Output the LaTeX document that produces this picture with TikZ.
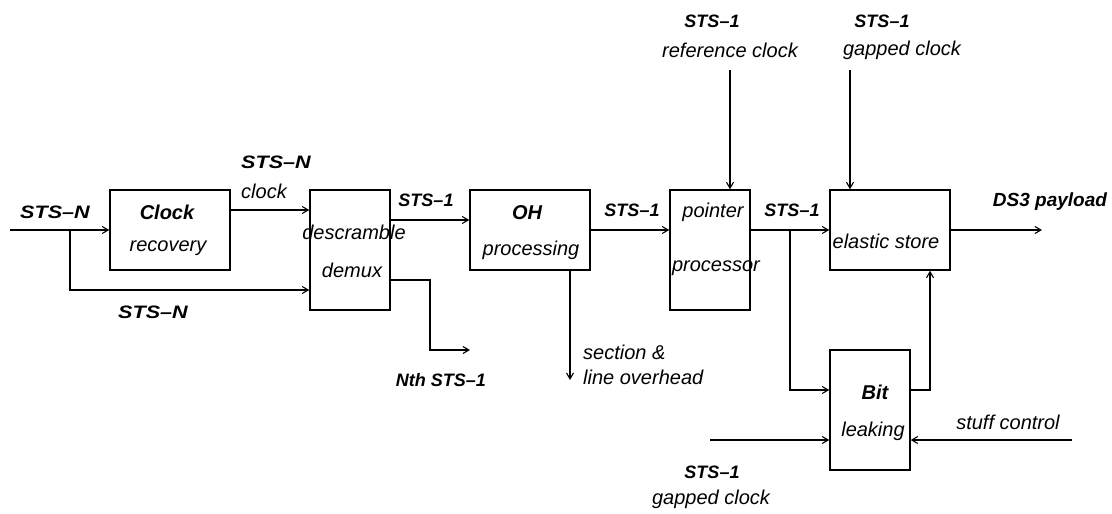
\documentclass[tikz,border=0pt]{standalone}
\usepackage{fontspec}
\setmainfont{Liberation Sans}
\usepackage{graphicx}
\usetikzlibrary{arrows.meta}
\begin{document}
\begin{tikzpicture}[x=1pt,y=-1pt,
  box/.style={draw,line width=1.4pt,inner sep=0pt},
  lbl/.style={inner sep=0pt,font=\fontsize{20}{22}\selectfont\itshape},
  blbl/.style={inner sep=0pt,font=\fontsize{18}{20}\selectfont\bfseries\itshape},
  bbox/.style={inner sep=0pt,font=\fontsize{20}{22}\selectfont\bfseries\itshape},
  wire/.style={line width=1.1pt},
  arr/.style={wire,-{Straight Barb[length=6pt,width=7pt,line width=1.1pt]}}]
\useasboundingbox (0,0) rectangle (1112,514);
% boxes
\node[box,minimum width=120pt,minimum height=80pt] (cr) at (170,230) {};
\node[box,minimum width=80pt,minimum height=120pt] (ds) at (350,250) {};
\node[box,minimum width=120pt,minimum height=80pt] (oh) at (530,230) {};
\node[box,minimum width=80pt,minimum height=120pt] (pp) at (710,250) {};
\node[box,minimum width=120pt,minimum height=80pt] (es) at (890,230) {};
\node[box,minimum width=80pt,minimum height=120pt] (bl) at (870,410) {};
% box texts
\node[bbox] (t1) at (167,212) {Clock};
\node[lbl] (t2) at (168,248) {recovery};
\node[lbl] (t3) at (354,232) {descramble};
\node[lbl] (t4) at (352,270) {demux};
\node[bbox] (t5) at (527,213) {OH};
\node[lbl] (t6) at (531,250) {processing};
\node[lbl] (t7) at (713,212) {pointer};
\node[lbl] (t8) at (716,268) {processor};
\node[lbl] (t9) at (886,241) {elastic store};
\node[bbox] (t10) at (875,392) {Bit};
\node[lbl] (t11) at (873,431) {leaking};
% signal labels
\node[blbl] (l1) at (55,212) {\scalebox{1.2}[1]{STS–N}};
\node[blbl,anchor=west] (l2) at (241,162) {\scalebox{1.2}[1]{STS–N}};
\node[lbl,anchor=west] (l3) at (241,191) {clock};
\node[blbl] (l4) at (153,312) {\scalebox{1.2}[1]{STS–N}};
\node[blbl] (l5) at (426,200) {STS–1};
\node[blbl] (l6) at (441,380) {Nth STS–1};
\node[blbl] (l7) at (632,210) {STS–1};
\node[lbl,anchor=west] (l8) at (583,352) {section \&};
\node[lbl,anchor=west] (l9) at (583,377) {line overhead};
\node[blbl] (l10) at (712,21) {STS–1};
\node[lbl] (l11) at (730,50) {reference clock};
\node[blbl] (l12) at (882,21) {STS–1};
\node[lbl] (l13) at (902,50) {gapped clock};
\node[blbl] (l14) at (792,210) {STS–1};
\node[blbl,font=\fontsize{19}{21}\selectfont\bfseries\itshape] (l15) at (1050,202) {DS3 payload};
\node[lbl] (l16) at (1008,422) {stuff control};
\node[blbl] (l17) at (712,472) {STS–1};
\node[lbl] (l18) at (711,499) {gapped clock};
% free ends
\coordinate (in) at (10,230);
\coordinate (br1) at (70,230);
\coordinate (nth) at (470,350);
\coordinate (ovh) at (570,380);
\coordinate (refc) at (730,70);
\coordinate (gapc) at (850,70);
\coordinate (br2) at (790,230);
\coordinate (ds3) at (1042,230);
\coordinate (stuff) at (1072,440);
\coordinate (gapb) at (710,440);
% connectors
\draw[arr] (in) -- (cr.west);
\draw[arr] (br1) |- ([yshift=-40pt]ds.west);
\draw[arr] ([yshift=20pt]cr.east) -- ([yshift=20pt]cr.east -| ds.west);
\draw[arr] ([yshift=30pt]ds.east) -- ([yshift=30pt]ds.east -| oh.west);
\draw[arr] ([yshift=-30pt]ds.east) -| (430,350) -- (nth);
\draw[arr] (oh.east) -- (oh.east -| pp.west);
\draw[arr] ([xshift=40pt]oh.south) -- (ovh);
\draw[arr] (refc) -- ([xshift=20pt]pp.north);
\draw[arr] ([yshift=20pt]pp.east) -- (es.west);
\draw[arr] (br2) |- ([yshift=20pt]bl.west);
\draw[arr] ([yshift=20pt]bl.east) -| ([xshift=40pt]es.south);
\draw[arr] (gapc) -- ([xshift=-40pt]es.north);
\draw[arr] (es.east) -- (ds3);
\draw[arr] (stuff) -- ([yshift=-30pt]bl.east);
\draw[arr] (gapb) -- ([yshift=-30pt]bl.west);
\end{tikzpicture}
\end{document}
